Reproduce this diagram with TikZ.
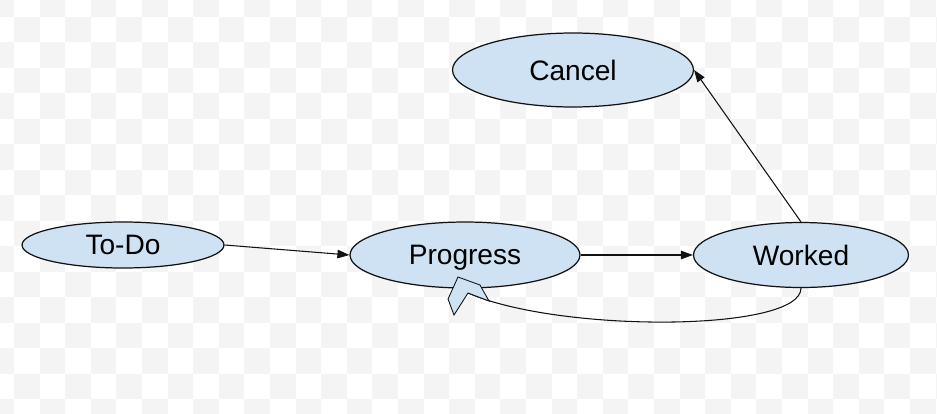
\documentclass[tikz,border=0pt]{standalone}
\usepackage{fontspec}
\setmainfont{Liberation Sans}
\usepackage{xcolor}
\usepackage{tikz}
\usetikzlibrary{shapes.geometric,arrows.meta}
\definecolor{bg}{HTML}{FFFFFF}
\definecolor{check}{HTML}{F4F4F4}
\definecolor{statefill}{HTML}{CFE2F3}
\definecolor{ink}{HTML}{111111}
\tikzset{
  state/.style={ellipse, draw=ink, fill=statefill, line width=0.7pt, inner sep=0pt,
    text depth=0pt, font=\fontsize{16}{19}\selectfont},
  trans/.style={draw=ink, line width=0.6pt, -{Triangle[length=2.4mm,width=1.7mm]}},
  loopback/.style={draw=ink, line width=0.6pt},
  chevron/.style={draw=ink, fill=statefill, line width=0.5pt, line join=miter},
}
\begin{document}
\begin{tikzpicture}[x=0.02cm, y=-0.02cm]
  \useasboundingbox (0,0) rectangle (937,413);
  \fill[bg] (0,0) rectangle (937,413);

  % checkered backdrop
  \begin{scope}
    \clip (0,0) rectangle (937,413);
    \foreach \i in {0,...,37} {
      \foreach \j in {0,...,17} {
        \pgfmathtruncatemacro{\odd}{mod(\i+\j,2)}
        \ifnum\odd=0
          \fill[check] (-11.6+25.6*\i,-8.8+25.5*\j) rectangle ++(25.6,25.5);
        \fi
      }
    }
  \end{scope}

  \node[state, minimum width=4.04cm, minimum height=0.92cm] (todo) at (123,245) {To-Do};
  \node[state, minimum width=4.6cm, minimum height=1.32cm] (progress) at (465,255) {Progress};
  \node[state, minimum width=4.3cm, minimum height=1.3cm] (worked) at (801,255) {Worked};
  \node[state, minimum width=4.82cm, minimum height=1.48cm] (cancel) at (573,70) {Cancel};

  \draw[trans] (todo.east) -- (progress.west);
  \draw[trans] (progress.east) -- (worked.west);
  \draw[trans] (worked.north) -- (cancel.east);

  % way back from worked, odd open head
  \coordinate (ret) at (468,293);
  \draw[loopback] (worked.south) .. controls +(0,44) and +(92,40) .. (ret);
  \draw[chevron] (ret) -- +(21,8) -- +(12,-8) -- +(-10,-16) -- +(-20,6) -- +(-14,22) -- cycle;
\end{tikzpicture}
\end{document}
